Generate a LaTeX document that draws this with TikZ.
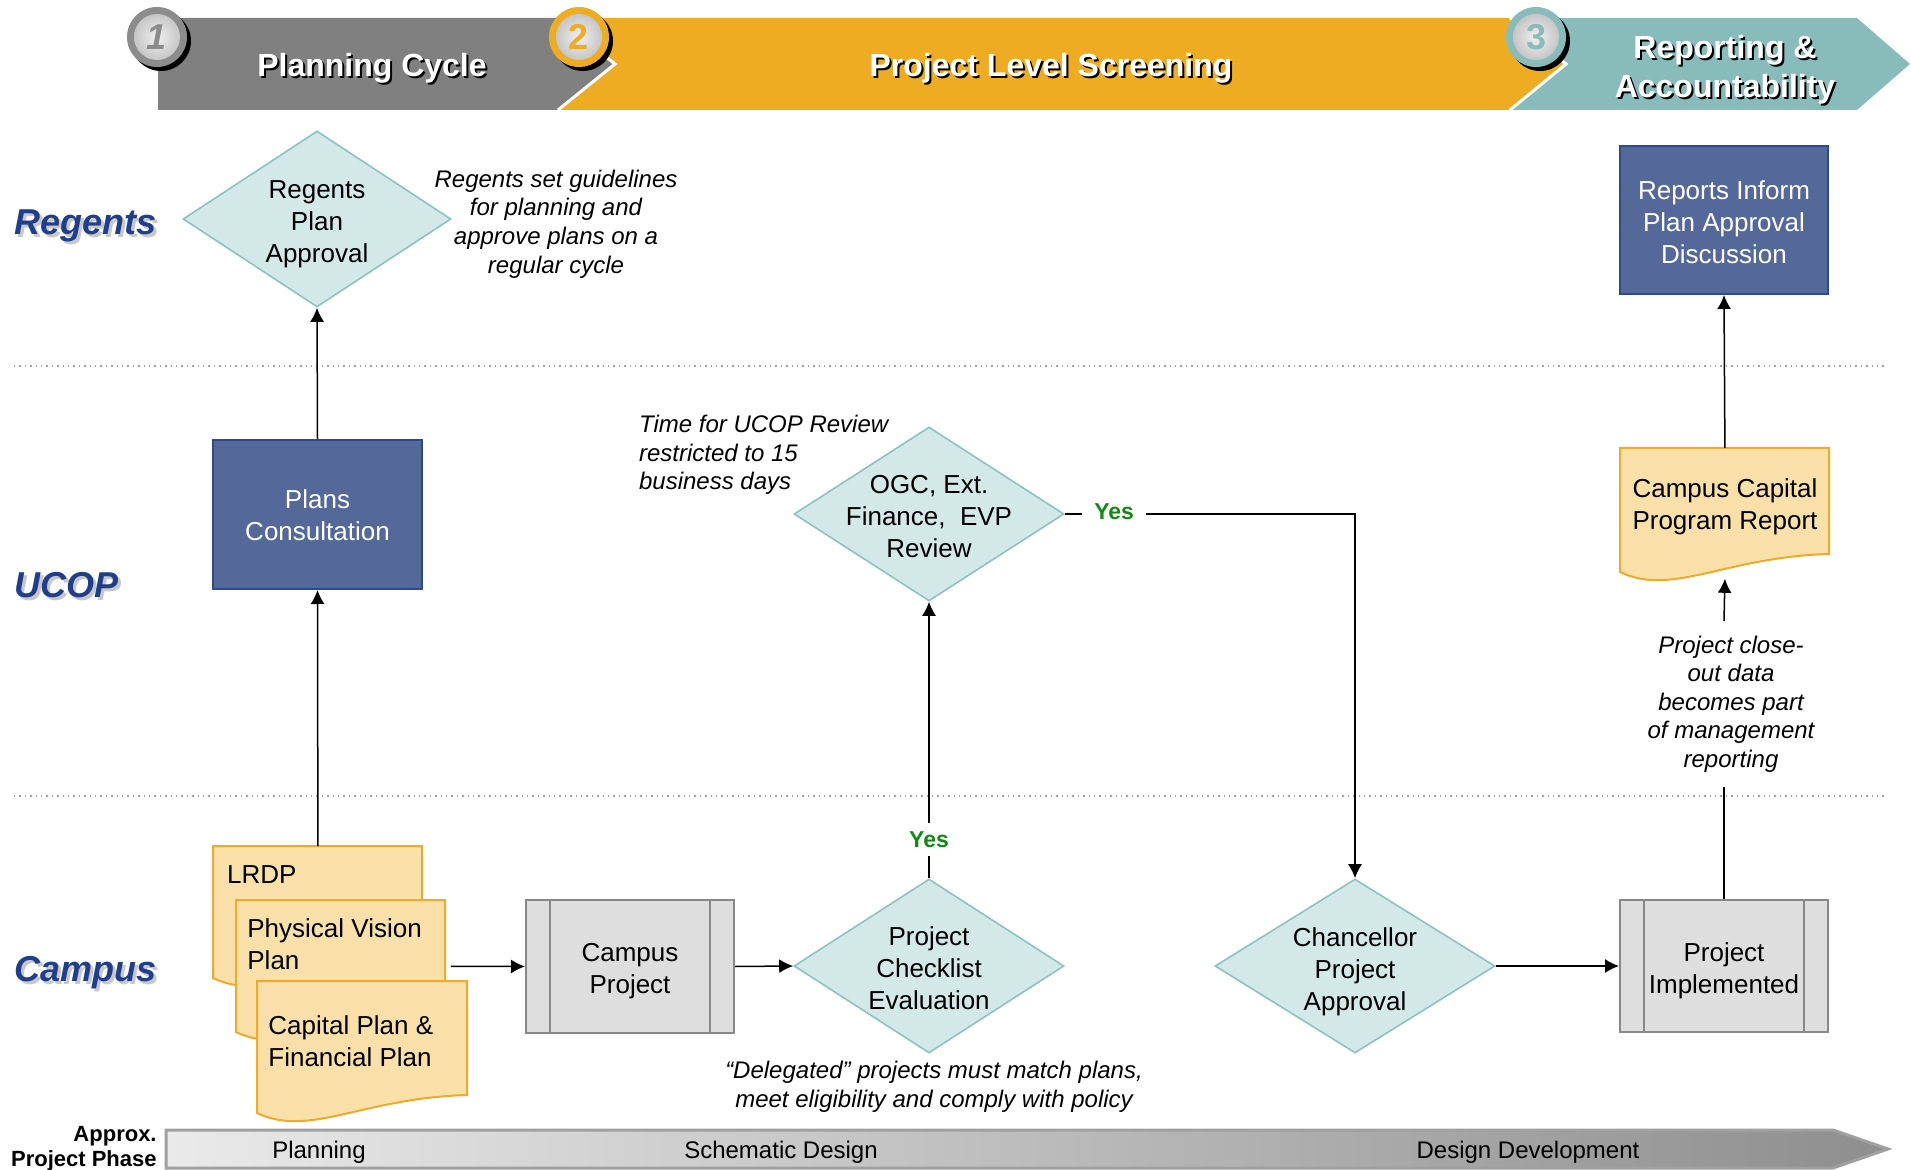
\documentclass[tikz,border=0pt]{standalone}
\usepackage{fontspec}
\setmainfont{Liberation Sans}
\usetikzlibrary{shapes.geometric,arrows.meta}
\definecolor{hgray}{HTML}{808080}
\definecolor{horange}{HTML}{EEAC22}
\definecolor{hteal}{HTML}{88BCBB}
\definecolor{ringgray}{HTML}{8C8C8C}
\definecolor{laneblue}{HTML}{1F3F8C}
\definecolor{laneshadow}{HTML}{C8C8C8}
\definecolor{dfill}{HTML}{D3E9E7}
\definecolor{dline}{HTML}{8CC2C0}
\definecolor{bfill}{HTML}{54699A}
\definecolor{bline}{HTML}{2B4B8E}
\definecolor{docfill}{HTML}{F9E0A8}
\definecolor{docline}{HTML}{EEAB2B}
\definecolor{pfill}{HTML}{DEDEDE}
\definecolor{pline}{HTML}{888888}
\definecolor{yesgreen}{HTML}{138A13}
\definecolor{barl}{HTML}{EAEAEA}
\definecolor{barr}{HTML}{8E8E8E}
\definecolor{barline}{HTML}{A0A0A0}
\newcommand{\mainf}{\fontsize{13}{16}\selectfont}
\newcommand{\notef}{\fontsize{12}{14.3}\selectfont\itshape}
\newcommand{\docdraw}[4]{\draw[docst] (#1,#2) -- (#3,#2) -- (#3,{#4-18}) .. controls ({#1+0.5*(#3-#1)},{#4-15}) and ({#1+0.25*(#3-#1)},{#4+25}) .. (#1,#4) -- cycle;}
\tikzset{
  dia/.style={diamond, draw=dline, fill=dfill, line width=0.8pt, inner sep=0pt},
  txt/.style={align=center, font=\mainf},
  bluebox/.style={rectangle, draw=bline, fill=bfill, line width=1pt, text=white, align=center, font=\mainf, inner sep=0pt},
  procbox/.style={rectangle, draw=pline, fill=pfill, line width=1pt, inner sep=0pt},
  procline/.style={draw=pline, line width=1pt},
  docst/.style={draw=docline, fill=docfill, line width=1pt},
  ghost/.style={rectangle, inner sep=0pt, draw=none},
  annot/.style={align=center, font=\notef},
  arr/.style={-{Latex[length=7pt,width=7pt]}, line width=0.75pt},
  conn/.style={line width=0.75pt},
  yeslbl/.style={text=yesgreen, font=\bfseries\fontsize{11.5}{13}\selectfont, fill=white, inner xsep=6pt, inner ysep=4pt},
  lane/.style={anchor=west, font=\bfseries\itshape\fontsize{18}{20}\selectfont, inner sep=0pt},
  htext/.style={font=\bfseries\fontsize{16}{19.5}\selectfont, align=center, text=white},
  num/.style={font=\bfseries\fontsize{18}{20}\selectfont},
  phase/.style={font=\fontsize{12}{14}\selectfont}
}
\begin{document}
\begin{tikzpicture}[x=0.5pt,y=-0.5pt]
\useasboundingbox (0,0) rectangle (1911,1170);
% ---------- header ----------
\fill[hgray] (158,18) -- (558,18) -- (615,64) -- (558,110) -- (158,110) -- cycle;
\fill[horange] (558,18) -- (1510,18) -- (1566,64) -- (1510,110) -- (558,110) -- (615,64) -- cycle;
\fill[hteal] (1510,18) -- (1857,18) -- (1910,64) -- (1857,110) -- (1510,110) -- (1566,64) -- cycle;
\draw[white, line width=1.5pt] (558,110) -- (615,64) -- (558,18);
\draw[white, line width=1.5pt] (1510,110) -- (1566,64) -- (1510,18);
% circles
\foreach \cx/\rc/\nm/\sty in {157/ringgray/1/\itshape, 579/horange/2/, 1536/hteal/3/}{
  \fill[black] (\cx+4,41) circle[radius=15pt];
  \fill[\rc] (\cx,37) circle[radius=15pt];
  \shade[inner color=gray!12, outer color=gray!45] (\cx,37) circle[radius=11.5pt];
  \node[num, text=\rc] (num\nm) at (\cx,37) {\sty\nm};
}
\node[htext, text=black] (h1s) at (374,70) {Planning Cycle};
\node[htext] (h1) at (372,68) {Planning Cycle};
\node[htext, text=black] (h2s) at (1053,70) {Project Level Screening};
\node[htext] (h2) at (1051,68) {Project Level Screening};
\node[htext, text=black] (h3s) at (1727,72) {Reporting \&\\Accountability};
\node[htext] (h3) at (1725,70) {Reporting \&\\Accountability};
% ---------- lanes ----------
\draw[dotted, barline, line width=0.7pt] (14,366) -- (1887,366);
\draw[dotted, barline, line width=0.7pt] (14,796) -- (1887,796);
\node[lane, text=laneshadow] (lregs) at (17,229) {Regents};
\node[lane, text=laneblue] (lreg) at (14,226) {Regents};
\node[lane, text=laneshadow] (lucops) at (17,588) {UCOP};
\node[lane, text=laneblue] (lucop) at (14,585) {UCOP};
\node[lane, text=laneshadow] (lcamps) at (17,976) {Campus};
\node[lane, text=laneblue] (lcamp) at (14,973) {Campus};
% ---------- Regents row ----------
\node[dia, minimum width=134pt, minimum height=88pt] (regdia) at (317,219) {};
\node[txt] (regdiat) at (317,224) {Regents\\Plan\\Approval};
\node[annot] (regnote) at (556,224) {Regents set guidelines\\for planning and\\approve plans on a\\regular cycle};
\node[bluebox, minimum width=104pt, minimum height=74pt] (reports) at (1724,220) {};
\node[txt, text=white] (reportst) at (1724,222) {Reports Inform\\Plan Approval\\Discussion};
% ---------- UCOP row ----------
\node[bluebox, minimum width=104.5pt, minimum height=74.5pt] (plans) at (317.5,514.5) {};
\node[txt, text=white] (planst) at (317.5,515.5) {Plans\\Consultation};
\node[dia, minimum width=135pt, minimum height=87pt] (ogc) at (929,514) {};
\node[txt] (ogct) at (929,517) {OGC, Ext.\\Finance,\ \ EVP\\Review};
\node[annot, align=left, anchor=west] (timenote) at (632,455) {Time for UCOP Review\\restricted to 15\\business days};
% Campus capital program report (document)
\docdraw{1620}{448}{1829}{572}
\node[ghost, anchor=north west, minimum width=104.5pt, minimum height=65pt] (ccpr) at (1620,448) {};
\node[txt] (ccprt) at (1725,507) {Campus Capital\\Program Report};
\node[annot, inner ysep=7pt] (closenote) at (1731,704) {Project close-\\out data\\becomes part\\of management\\reporting};
% ---------- Campus row ----------
\docdraw{213}{846}{422}{978}
\node[ghost, anchor=north west, minimum width=104.5pt, minimum height=66pt] (lrdp) at (213,846) {};
\node[txt, anchor=west] (lrdpt) at (220,874.5) {LRDP};
\docdraw{236}{900}{445}{1032}
\node[ghost, anchor=north west, minimum width=104.5pt, minimum height=66pt] (pv) at (236,900) {};
\node[txt, anchor=north west, align=left, inner sep=0pt] (pvt) at (247,918) {Physical Vision\\Plan};
\docdraw{257}{981}{467}{1113}
\node[ghost, anchor=north west, minimum width=105pt, minimum height=66pt] (cap) at (257,981) {};
\node[txt, anchor=north west, align=left, inner sep=0pt] (capt) at (268,1015) {Capital Plan \&\\Financial Plan};
\node[procbox, minimum width=104pt, minimum height=66.5pt] (cproj) at (630,966.5) {};
\node[txt] (cprojt) at (630,971) {Campus\\Project};
\draw[procline] ([xshift=12.5pt]cproj.north west) -- ([xshift=12.5pt]cproj.south west);
\draw[procline] ([xshift=-12.5pt]cproj.north east) -- ([xshift=-12.5pt]cproj.south east);
\node[dia, minimum width=135pt, minimum height=87pt] (check) at (929,966) {};
\node[txt] (checkt) at (929,968) {Project\\Checklist\\Evaluation};
\node[annot] (delnote) at (934,1087) {“Delegated” projects must match plans,\\meet eligibility and comply with policy};
\node[dia, minimum width=140pt, minimum height=87pt] (chanc) at (1355,966) {};
\node[txt] (chanct) at (1355,972) {Chancellor\\Project\\Approval};
\node[procbox, minimum width=104pt, minimum height=66pt] (impl) at (1724,966) {};
\node[txt] (implt) at (1724,970.5) {Project\\Implemented};
\draw[procline] ([xshift=12.5pt]impl.north west) -- ([xshift=12.5pt]impl.south west);
\draw[procline] ([xshift=-12.5pt]impl.north east) -- ([xshift=-12.5pt]impl.south east);
% ---------- connectors ----------
\draw[arr] (plans.north) -- (regdia.south);
\draw[arr] (lrdp.north) -- (plans.south);
\draw[arr] ([xshift=2.5pt]pv.east) -- (cproj.west);
\draw[arr] (cproj.east) -- (check.west);
\draw[arr] (check.north) -- node[yeslbl, pos=0.14] (yes1) {Yes} (ogc.south);
\draw[arr] (ogc.east) -- node[yeslbl, pos=0.17, yshift=1.2pt] (yes2) {Yes} (ogc.east -| chanc.north) -- (chanc.north);
\draw[arr] (chanc.east) -- (impl.west);
\draw[conn] (impl.north) -- (impl.north |- closenote.south);
\draw[arr] (impl.north |- closenote.north) -- (ccpr.south);
\draw[arr] (ccpr.north) -- (reports.south);
% ---------- phase bar ----------
\shade[left color=barl, right color=barr] (166,1130) -- (1833,1130) -- (1888,1149) -- (1833,1168) -- (166,1168) -- cycle;
\draw[barline, line width=1.5pt] (166,1130) -- (1833,1130) -- (1888,1149) -- (1833,1168) -- (166,1168) -- cycle;
\node[phase] (ph1) at (319,1152) {Planning};
\node[phase] (ph2) at (781,1152) {Schematic Design};
\node[phase] (ph3) at (1528,1152) {Design Development};
\node[anchor=east, align=right, font=\bfseries\fontsize{11}{12.5}\selectfont, inner sep=0pt] (appr) at (157,1149) {Approx.\\Project Phase};
\end{tikzpicture}
\end{document}
